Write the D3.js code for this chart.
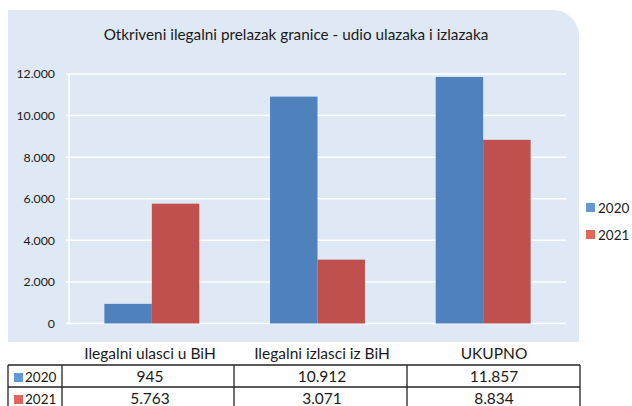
<!DOCTYPE html>
<html>
<head>
<meta charset="utf-8">
<script src="https://cdn.jsdelivr.net/npm/d3@7"></script>
<style>
  body { margin: 0; background: #fff; }
  svg { display: block; font-family: Lato, "Open Sans", sans-serif; }
</style>
</head>
<body>
<svg id="chart"></svg>
<script>
const width = 632;
const height = 406;

const title = 'Otkriveni ilegalni prelazak granice - udio ulazaka i izlazaka';
const categories = ['Ilegalni ulasci u BiH', 'Ilegalni izlasci iz BiH', 'UKUPNO'];
const years = ['2020', '2021'];
const values2020 = [945, 10912, 11857];
const values2021 = [5763, 3071, 8834];
const yTicks = [0, 2000, 4000, 6000, 8000, 10000, 12000];

const barColors = ['#4F81BD', '#C0504D'];
const keyColors = ['#6299D4', '#E2665B'];

const locale = d3.formatLocale({decimal: ',', thousands: '.', grouping: [3], currency: ['', '']});
const fmt = locale.format(',d');

const series = [values2020, values2021];
const rows = categories.map((c, i) => ({category: c, values: series.map(s => s[i])}));

const svg = d3.select('#chart')
    .attr('width', width)
    .attr('height', height);

// panel with rounded top right corner
const px0 = 8, px1 = 579, py0 = 10, py1 = 342, rr = 26;
svg.append('path')
    .attr('d', `M${px0},${py0} H${px1 - rr} A${rr},${rr} 0 0 1 ${px1},${py0 + rr} V${py1} H${px0} Z`)
    .attr('fill', '#DEE9F5');

svg.append('text')
    .attr('x', 296)
    .attr('y', 40)
    .attr('text-anchor', 'middle')
    .attr('font-size', 15.3)
    .attr('fill', '#1a1a1a')
    .text(title);

const plotLeft = 69, plotRight = 566;
const y = d3.scaleLinear().domain([0, 12000]).range([323.5, 74]);
const x0 = d3.scaleBand().domain(categories).range([plotLeft, plotRight])
    .paddingInner(0.427).paddingOuter(0.2135);
const x1 = d3.scaleBand().domain(years).range([0, x0.bandwidth()]);

// gridlines
svg.append('g')
    .selectAll('line')
    .data(yTicks)
    .join('line')
    .attr('x1', plotLeft - 3)
    .attr('x2', plotRight)
    .attr('y1', d => y(d))
    .attr('y2', d => y(d))
    .attr('stroke', '#fff')
    .attr('stroke-width', 1.5);

svg.append('line')
    .attr('x1', plotLeft).attr('x2', plotLeft)
    .attr('y1', y(12000)).attr('y2', y(0))
    .attr('stroke', '#fff')
    .attr('stroke-width', 1.5);

const yAxis = svg.append('g')
    .attr('transform', `translate(${plotLeft - 14}, 0)`)
    .call(d3.axisLeft(y).tickValues(yTicks).tickFormat(fmt).tickSize(0).tickPadding(0));
yAxis.select('.domain').remove();
yAxis.selectAll('text')
    .attr('font-family', 'Lato, sans-serif')
    .attr('font-size', 12.3)
    .attr('fill', '#1a1a1a');

// bars
svg.append('g')
    .selectAll('g')
    .data(rows)
    .join('g')
    .attr('transform', d => `translate(${x0(d.category)}, 0)`)
    .selectAll('rect')
    .data(d => d.values.map((v, i) => ({year: years[i], value: v, i})))
    .join('rect')
    .attr('x', d => x1(d.year))
    .attr('width', x1.bandwidth())
    .attr('y', d => y(d.value))
    .attr('height', d => y(0) - y(d.value))
    .attr('fill', d => barColors[d.i]);

// legend
const legend = svg.append('g')
    .selectAll('g')
    .data(years)
    .join('g')
    .attr('transform', (d, i) => `translate(586, ${203 + i * 27})`);
legend.append('rect')
    .attr('width', 9).attr('height', 9)
    .attr('fill', (d, i) => keyColors[i]);
legend.append('text')
    .attr('x', 12).attr('y', 9.5)
    .attr('font-size', 13.5)
    .attr('fill', '#1a1a1a')
    .text(d => d);

// data table
const colEdges = [8, 62, 234, 407, 580];
const colCenters = [150, 322, 494];
const rowEdges = [365, 387, 409];

svg.append('g')
    .selectAll('text')
    .data(categories)
    .join('text')
    .attr('x', (d, i) => colCenters[i])
    .attr('y', 359)
    .attr('text-anchor', 'middle')
    .attr('font-size', 15.5)
    .attr('fill', '#1a1a1a')
    .text(d => d);

const table = svg.append('g');
table.selectAll('.h')
    .data(rowEdges)
    .join('line')
    .attr('class', 'h')
    .attr('x1', colEdges[0]).attr('x2', colEdges[colEdges.length - 1])
    .attr('y1', d => d).attr('y2', d => d)
    .attr('stroke', '#222').attr('stroke-width', 1.3);
table.selectAll('.v')
    .data(colEdges)
    .join('line')
    .attr('class', 'v')
    .attr('x1', d => d).attr('x2', d => d)
    .attr('y1', rowEdges[0]).attr('y2', rowEdges[rowEdges.length - 1])
    .attr('stroke', '#222').attr('stroke-width', 1.3);

const tableRows = table.selectAll('.row')
    .data(series)
    .join('g')
    .attr('class', 'row')
    .attr('transform', (d, i) => `translate(0, ${rowEdges[i]})`);

tableRows.append('rect')
    .attr('x', 14).attr('y', 8)
    .attr('width', 9).attr('height', 9)
    .attr('fill', (d, i) => keyColors[i]);
tableRows.append('text')
    .attr('x', 25).attr('y', 17)
    .attr('font-size', 13.5)
    .attr('fill', '#1a1a1a')
    .text((d, i) => years[i]);
tableRows.selectAll('.val')
    .data(d => d)
    .join('text')
    .attr('class', 'val')
    .attr('x', (d, i) => colCenters[i])
    .attr('y', 17)
    .attr('text-anchor', 'middle')
    .attr('font-size', 15.5)
    .attr('fill', '#1a1a1a')
    .text(d => fmt(d));
</script>
</body>
</html>
